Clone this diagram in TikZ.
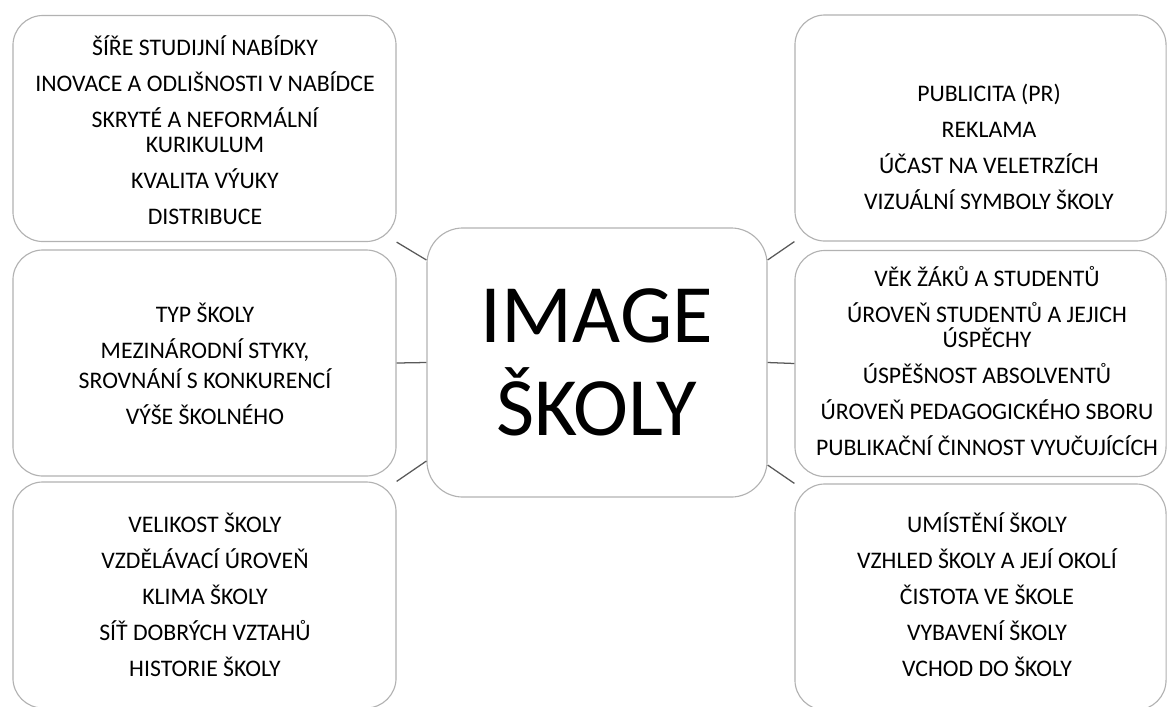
\documentclass[tikz,border=0pt]{standalone}
\usepackage{fontspec}
\setmainfont{Carlito}
\usepackage{tikz}
\usetikzlibrary{positioning}

\begin{document}
\begin{tikzpicture}[
  x=0.025cm, y=-0.025cm,
  box/.style={draw=gray!60, line width=0.8pt, rounded corners=0.75cm,
              minimum width=9.575cm, minimum height=5.65cm, fill=white},
  rbox/.style={box, minimum width=9.275cm},
  core/.style={draw=gray!60, line width=0.8pt, rounded corners=0.9cm,
               minimum width=8.5cm, minimum height=6.725cm,
               font=\fontsize{59}{66}\selectfont, align=center},
  txt/.style={font=\fontsize{16.9}{17.8}\selectfont, align=center,
              inner sep=0pt},
  conn/.style={draw=black!65, line width=0.9pt}
]
\useasboundingbox (0,0) rectangle (1168,706);

% centre
\node[core] (ctr) at (597,362.5) {IMAGE\\ŠKOLY};

% left column
\node[box] (lt) at (204.5,128.5) {};
\node[box] (lm) at (204.5,363) {};
\node[box] (lb) at (204.5,595) {};
% right column
\node[rbox] (rt) at (980.5,128) {};
\node[rbox] (rm) at (980.5,363.5) {};
\node[rbox] (rb) at (980.5,597) {};

\node[txt] (lt-t) at (205,130) {ŠÍŘE STUDIJNÍ NABÍDKY\\[7.8pt]
  INOVACE A ODLIŠNOSTI V NABÍDCE\\[7.8pt]
  SKRYTÉ A NEFORMÁLNÍ\\KURIKULUM\\[7.8pt]
  KVALITA VÝUKY\\[7.8pt]
  DISTRIBUCE};
\node[txt] (lm-t) at (205,364) {TYP ŠKOLY\\[7.8pt]
  MEZINÁRODNÍ STYKY,\\[4pt]SROVNÁNÍ S KONKURENCÍ\\[7.8pt]
  VÝŠE ŠKOLNÉHO};
\node[txt] (lb-t) at (205,595) {VELIKOST ŠKOLY\\[7.8pt]
  VZDĚLÁVACÍ ÚROVEŇ\\[7.8pt]
  KLIMA ŠKOLY\\[7.8pt]
  SÍŤ DOBRÝCH VZTAHŮ\\[7.8pt]
  HISTORIE ŠKOLY};
\node[txt] (rt-t) at (989,147) {PUBLICITA (PR)\\[7.8pt]
  REKLAMA\\[7.8pt]
  ÚČAST NA VELETRZÍCH\\[7.8pt]
  VIZUÁLNÍ SYMBOLY ŠKOLY};
\node[txt] (rm-t) at (987,361) {VĚK ŽÁKŮ A STUDENTŮ\\[7.8pt]
  ÚROVEŇ STUDENTŮ A JEJICH\\ÚSPĚCHY\\[7.8pt]
  ÚSPĚŠNOST ABSOLVENTŮ\\[7.8pt]
  ÚROVEŇ PEDAGOGICKÉHO SBORU\\[7.8pt]
  PUBLIKAČNÍ ČINNOST VYUČUJÍCÍCH};
\node[txt] (rb-t) at (987,595) {UMÍSTĚNÍ ŠKOLY\\[7.8pt]
  VZHLED ŠKOLY A JEJÍ OKOLÍ\\[7.8pt]
  ČISTOTA VE ŠKOLE\\[7.8pt]
  VYBAVENÍ ŠKOLY\\[7.8pt]
  VCHOD DO ŠKOLY};

% connectors
\draw[conn] (lt.south east) -- (ctr.149.4);
\draw[conn] (lm.east) -- (ctr.west);
\draw[conn] (lb.north east) -- (ctr.210.6);
\draw[conn] (rt.south west) -- (ctr.31);
\draw[conn] (rm.west) -- (ctr.east);
\draw[conn] (rb.north west) -- (ctr.329);
\end{tikzpicture}
\end{document}
